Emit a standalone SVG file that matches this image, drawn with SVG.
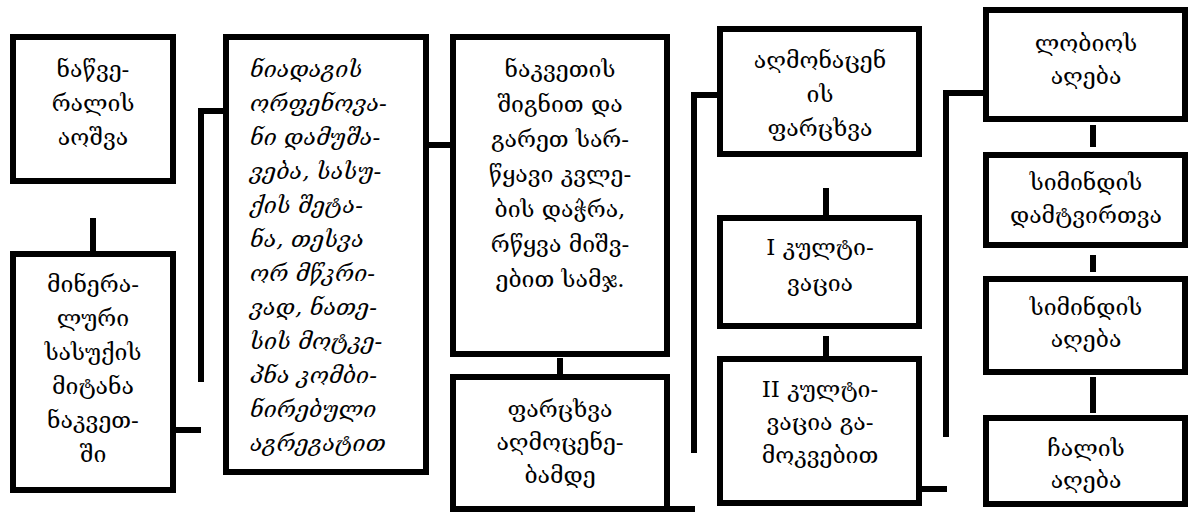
<svg xmlns="http://www.w3.org/2000/svg" width="1190" height="513" viewBox="0 0 1190 513">
<style>
  .box { fill: #fff; stroke: #000; stroke-width: 6; }
  .ln { fill: none; stroke: #000; stroke-width: 6; stroke-linejoin: miter; }
  text { font-family: "DejaVu Serif", "DejaVu Sans", serif; font-size: 23px; font-weight: 200; fill: #000; }
  .c { text-anchor: middle; }
  .it { font-style: italic; }
</style>
<rect width="1190" height="513" fill="#fff"/>
<g id="connectors">
  <path class="ln" d="M93 218 V254"/>
  <path class="ln" d="M201 382 V111 H226"/>
  <path class="ln" d="M173 430 H201"/>
  <path class="ln" d="M426 145 H453"/>
  <path class="ln" d="M560 358 V377"/>
  <path class="ln" d="M694 453 V95 H720"/>
  <path class="ln" d="M667 509 H695"/>
  <path class="ln" d="M826 188 V218"/>
  <path class="ln" d="M826 336 V359"/>
  <path class="ln" d="M919 489 H947"/>
  <path class="ln" d="M946 437 V93 H986"/>
  <path class="ln" d="M1093 125 V147"/>
  <path class="ln" d="M1093 255 V272"/>
  <path class="ln" d="M1093 377 V413"/>
</g>
<g id="n1">
  <rect class="box" x="13" y="37" width="160" height="144"/>
  <text class="c" x="93" y="77">ნაწვე-</text>
  <text class="c" x="93" y="111">რალის</text>
  <text class="c" x="93" y="145">აოშვა</text>
</g>
<g id="n2">
  <rect class="box" x="13" y="254" width="160" height="236"/>
  <text class="c" x="93" y="292">მინერა-</text>
  <text class="c" x="93" y="326">ლური</text>
  <text class="c" x="93" y="360">სასუქის</text>
  <text class="c" x="93" y="394">მიტანა</text>
  <text class="c" x="93" y="428">ნაკვეთ-</text>
  <text class="c" x="93" y="462">ში</text>
</g>
<g id="n3">
  <rect class="box" x="226" y="37" width="200" height="435"/>
  <text class="it" x="250" y="77">ნიადაგის</text>
  <text class="it" x="250" y="111">ორფენოვა-</text>
  <text class="it" x="250" y="145">ნი დამუშა-</text>
  <text class="it" x="250" y="179">ვება, სასუ-</text>
  <text class="it" x="250" y="213">ქის შეტა-</text>
  <text class="it" x="250" y="247">ნა, თესვა</text>
  <text class="it" x="250" y="281">ორ მწკრი-</text>
  <text class="it" x="250" y="315">ვად, ნათე-</text>
  <text class="it" x="250" y="349">სის მოტკე-</text>
  <text class="it" x="250" y="383">პნა კომბი-</text>
  <text class="it" x="250" y="417">ნირებული</text>
  <text class="it" x="250" y="451">აგრეგატით</text>
</g>
<g id="n4">
  <rect class="box" x="453" y="37" width="214" height="317"/>
  <text class="c" x="560" y="77">ნაკვეთის</text>
  <text class="c" x="560" y="112">შიგნით და</text>
  <text class="c" x="560" y="147">გარეთ სარ-</text>
  <text class="c" x="560" y="182">წყავი კვლე-</text>
  <text class="c" x="560" y="217">ბის დაჭრა,</text>
  <text class="c" x="560" y="252">რწყვა მიშვ-</text>
  <text class="c" x="560" y="287">ებით სამჯ.</text>
</g>
<g id="n5">
  <rect class="box" x="453" y="377" width="214" height="132"/>
  <text class="c" x="560" y="417">ფარცხვა</text>
  <text class="c" x="560" y="450">აღმოცენე-</text>
  <text class="c" x="560" y="483">ბამდე</text>
</g>
<g id="n6">
  <rect class="box" x="720" y="29" width="199" height="125"/>
  <text class="c" x="820" y="68">აღმონაცენ</text>
  <text class="c" x="820" y="102">ის</text>
  <text class="c" x="820" y="136">ფარცხვა</text>
</g>
<g id="n7">
  <rect class="box" x="720" y="218" width="199" height="108"/>
  <text class="c" x="820" y="255">I კულტი-</text>
  <text class="c" x="820" y="291">ვაცია</text>
</g>
<g id="n8">
  <rect class="box" x="720" y="359" width="199" height="144"/>
  <text class="c" x="820" y="397">II კულტი-</text>
  <text class="c" x="820" y="430">ვაცია გა-</text>
  <text class="c" x="820" y="463">მოკვებით</text>
</g>
<g id="n9">
  <rect class="box" x="986" y="10" width="199" height="109"/>
  <text class="c" x="1086" y="51">ლობიოს</text>
  <text class="c" x="1086" y="84">აღება</text>
</g>
<g id="n10">
  <rect class="box" x="986" y="155" width="199" height="90"/>
  <text class="c" x="1086" y="190">სიმინდის</text>
  <text class="c" x="1086" y="223">დამტვირთვა</text>
</g>
<g id="n11">
  <rect class="box" x="986" y="279" width="199" height="93"/>
  <text class="c" x="1086" y="315">სიმინდის</text>
  <text class="c" x="1086" y="347">აღება</text>
</g>
<g id="n12">
  <rect class="box" x="986" y="418" width="199" height="86"/>
  <text class="c" x="1086" y="456">ჩალის</text>
  <text class="c" x="1086" y="488">აღება</text>
</g>
</svg>
